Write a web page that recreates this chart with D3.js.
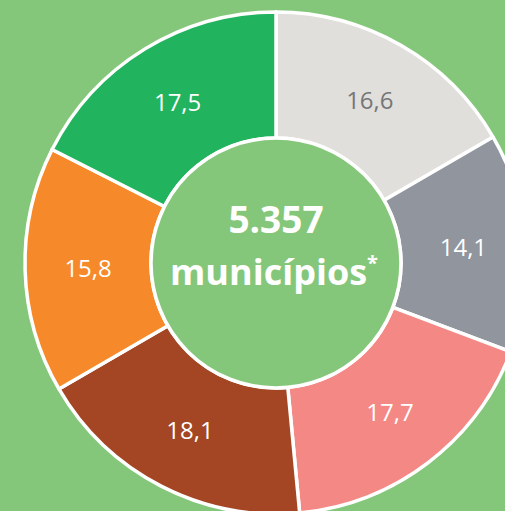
<!DOCTYPE html>
<html lang="pt">
<head>
  <meta charset="UTF-8">
  <title>Municípios</title>
  <script src="https://d3js.org/d3.v7.min.js"></script>
  <style>
    * { margin: 0; padding: 0; box-sizing: border-box; }
    body { background: #85c77a; overflow: hidden; }
    svg { display: block; font-family: "Open Sans", sans-serif; }
  </style>
</head>
<body>
  <div id="chart"></div>
  <script>
    // fatias no sentido horário a partir do topo
    const categorias = ["A", "B", "C", "D", "E", "F"];
    const valores = [16.6, 14.1, 17.7, 18.1, 15.8, 17.5];
    const cores = ["#e0dfdc", "#90959e", "#f38885", "#a44623", "#f68a2a", "#22b35e"];
    const coresTexto = ["#767676", "#fff", "#fff", "#fff", "#fff", "#fff"];
    const totalLinha1 = "5.357";
    const totalLinha2 = "municípios";

    const width = 505, height = 511;
    const cx = 276, cy = 263;
    const outer = 251, inner = 125;

    const svg = d3.select("#chart")
      .append("svg")
      .attr("width", width)
      .attr("height", height);

    const g = svg.append("g").attr("transform", `translate(${cx},${cy})`);

    const data = categorias.map((c, i) => ({ cat: c, valor: valores[i], i }));

    const pie = d3.pie().sort(null).value(d => d.valor);
    const arc = d3.arc().innerRadius(inner).outerRadius(outer);
    const labelArc = d3.arc().innerRadius(188).outerRadius(188);

    const arcs = pie(data);

    g.selectAll("path.fatia")
      .data(arcs)
      .enter()
      .append("path")
      .attr("class", "fatia")
      .attr("d", arc)
      .attr("fill", d => cores[d.data.i])
      .attr("stroke", "#fff")
      .attr("stroke-width", 3.5)
      .attr("stroke-linejoin", "round");

    g.selectAll("text.rotulo")
      .data(arcs)
      .enter()
      .append("text")
      .attr("class", "rotulo")
      .attr("transform", d => `translate(${labelArc.centroid(d)})`)
      .attr("text-anchor", "middle")
      .attr("dy", "0.36em")
      .style("font-size", "24px")
      .style("fill", d => coresTexto[d.data.i])
      .text(d => d3.format(".1f")(d.data.valor).replace(".", ","));

    // círculo central
    g.append("circle")
      .attr("r", inner)
      .attr("fill", "#85c77a")
      .attr("stroke", "#fff")
      .attr("stroke-width", 3.5);

    g.append("text")
      .attr("text-anchor", "middle")
      .attr("y", -30)
      .style("font-size", "37px")
      .style("font-weight", "bold")
      .style("fill", "#fff")
      .text(totalLinha1);

    const t2 = g.append("text")
      .attr("text-anchor", "middle")
      .attr("x", -2)
      .attr("y", 22)
      .style("font-size", "36px")
      .style("font-weight", "bold")
      .style("fill", "#fff");
    t2.append("tspan").text(totalLinha2);
    t2.append("tspan")
      .attr("dy", -15)
      .style("font-size", "20px")
      .text("*");
  </script>
</body>
</html>
